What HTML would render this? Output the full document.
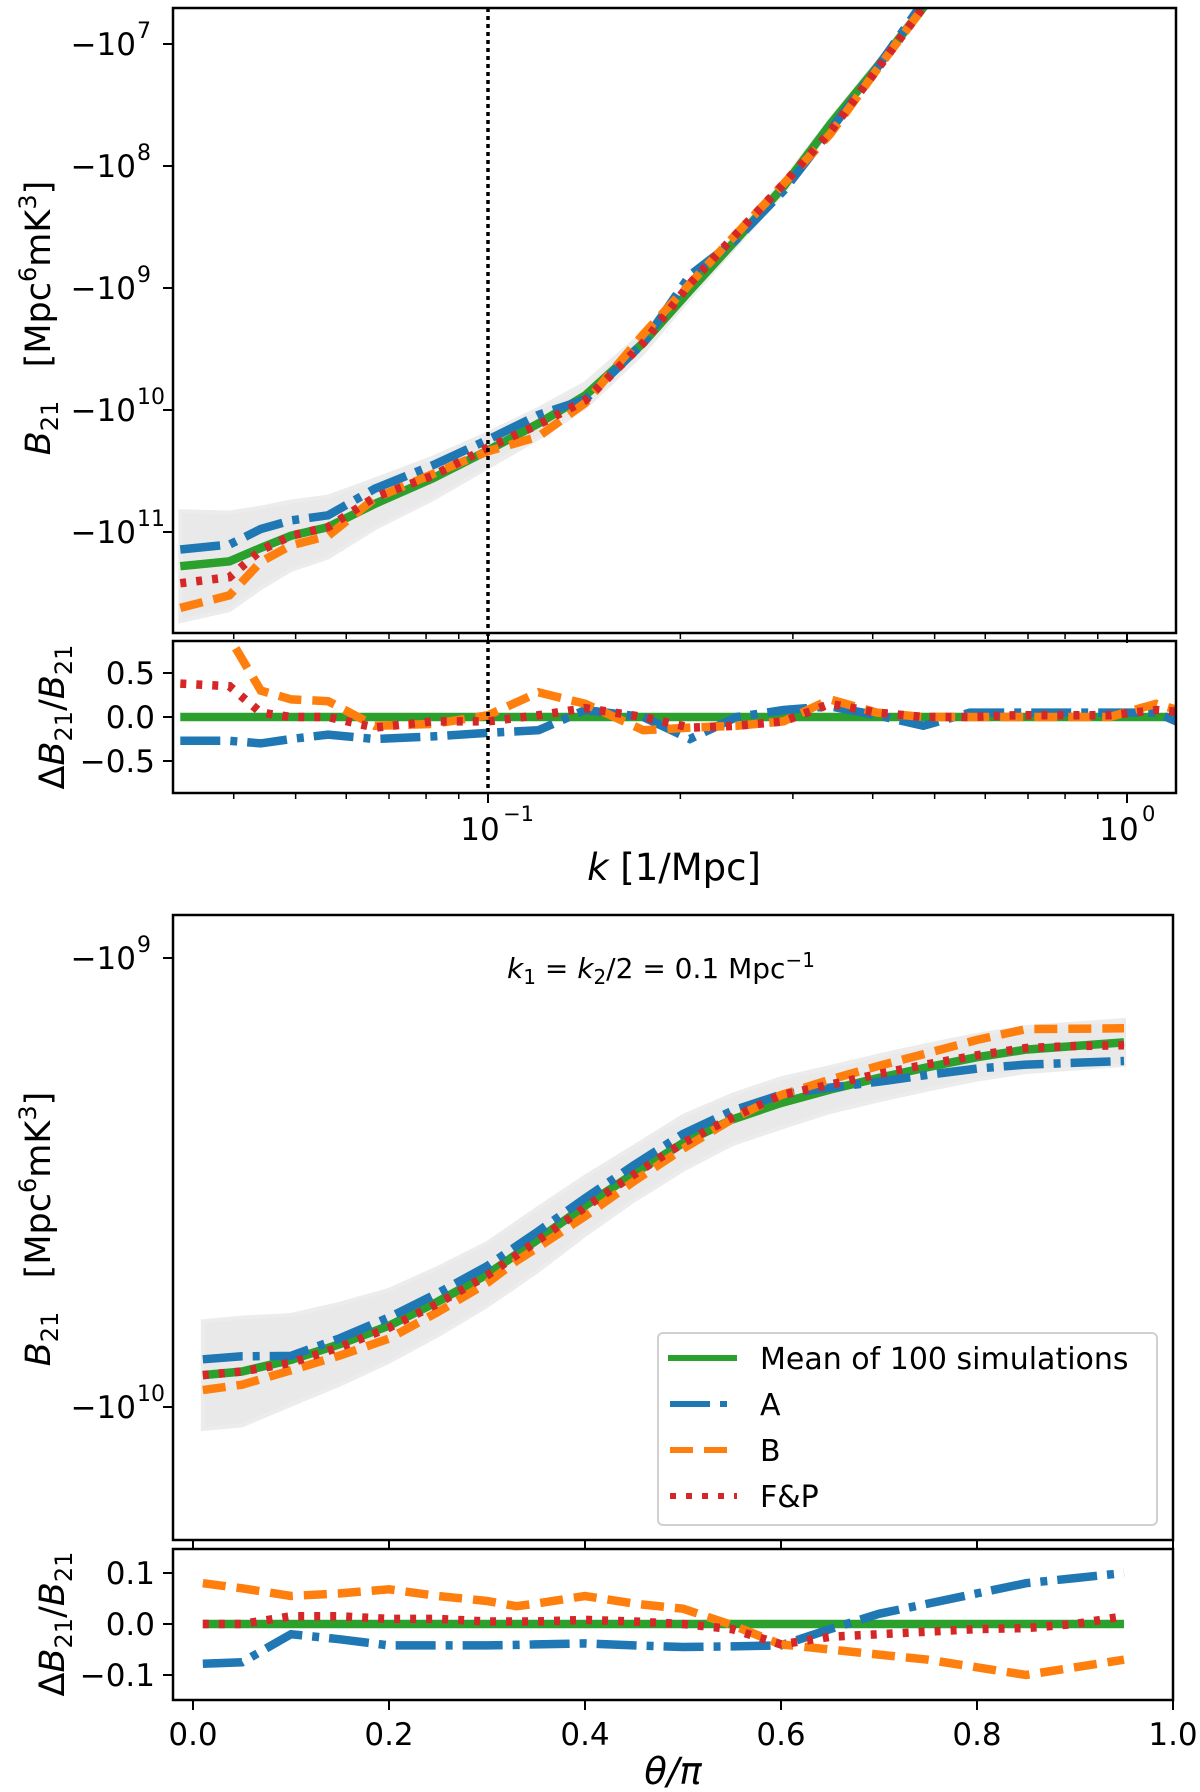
<!DOCTYPE html>
<html><head><meta charset="utf-8"><style>
html,body{margin:0;padding:0;background:#fff;}
svg{display:block;font-family:"DejaVu Sans","Liberation Sans",sans-serif;}
</style></head><body>
<svg id="fig" width="1200" height="1792" viewBox="0 0 1200 1792" xmlns="http://www.w3.org/2000/svg">
<defs>
<clipPath id="c1"><rect x="173" y="8" width="1003" height="625"/></clipPath>
<clipPath id="c2"><rect x="173" y="641" width="1003" height="152"/></clipPath>
<clipPath id="c3"><rect x="173" y="915" width="1000" height="625"/></clipPath>
<clipPath id="c4"><rect x="173" y="1549" width="1000" height="151"/></clipPath>
</defs>
<g id="g1" clip-path="url(#c1)"></g>
<g id="g2" clip-path="url(#c2)"></g>
<g id="g3" clip-path="url(#c3)"></g>
<g id="g4" clip-path="url(#c4)"></g>
<g id="axes"></g>

<text transform="translate(50,318) rotate(-90)" text-anchor="middle" font-size="35"><tspan font-style="italic">B</tspan><tspan font-size="24" dy="8">21</tspan><tspan dy="-8" xml:space="preserve">   [Mpc</tspan><tspan font-size="24" dy="-14">6</tspan><tspan dy="14">mK</tspan><tspan font-size="24" dy="-14">3</tspan><tspan dy="14">]</tspan></text>
<text transform="translate(64,717) rotate(-90)" text-anchor="middle" font-size="35">Δ<tspan font-style="italic">B</tspan><tspan font-size="24" dy="8">21</tspan><tspan dy="-8">/</tspan><tspan font-style="italic">B</tspan><tspan font-size="24" dy="8">21</tspan></text>
<text x="674" y="880" text-anchor="middle" font-size="37"><tspan font-style="italic">k</tspan> [1/Mpc]</text>
<text transform="translate(50,1229) rotate(-90)" text-anchor="middle" font-size="35"><tspan font-style="italic">B</tspan><tspan font-size="24" dy="8">21</tspan><tspan dy="-8" xml:space="preserve">   [Mpc</tspan><tspan font-size="24" dy="-14">6</tspan><tspan dy="14">mK</tspan><tspan font-size="24" dy="-14">3</tspan><tspan dy="14">]</tspan></text>
<text transform="translate(64,1624) rotate(-90)" text-anchor="middle" font-size="35">Δ<tspan font-style="italic">B</tspan><tspan font-size="24" dy="8">21</tspan><tspan dy="-8">/</tspan><tspan font-style="italic">B</tspan><tspan font-size="24" dy="8">21</tspan></text>
<text x="673" y="1784" text-anchor="middle" font-size="37" font-style="italic">θ/π</text>
<text x="507" y="978" font-size="28"><tspan font-style="italic">k</tspan><tspan font-size="20" dy="6">1</tspan><tspan dy="-6"> = </tspan><tspan font-style="italic">k</tspan><tspan font-size="20" dy="6">2</tspan><tspan dy="-6">/2 = 0.1 Mpc</tspan><tspan font-size="20" dy="-11">−1</tspan></text>

<g>
<rect x="658" y="1333" width="499" height="192" rx="5" fill="#fff" fill-opacity="0.85" stroke="#d0d0d0" stroke-width="2"/>
<g><line x1="668" y1="1358" x2="737" y2="1358" stroke="#2ca02c" stroke-width="6"/><text x="760" y="1369" font-size="30">Mean of 100 simulations</text></g>
<g><line x1="670" y1="1404" x2="737" y2="1404" stroke="#1f77b4" stroke-width="6" stroke-dasharray="40,10,7,10"/><text x="760" y="1415" font-size="30">A</text></g>
<g><line x1="670" y1="1450" x2="737" y2="1450" stroke="#ff7f0e" stroke-width="6" stroke-dasharray="23,11"/><text x="760" y="1461" font-size="30">B</text></g>
<g><line x1="670" y1="1496" x2="737" y2="1496" stroke="#d62728" stroke-width="6" stroke-dasharray="6,10"/><text x="760" y="1507" font-size="30">F&amp;P</text></g>
</g>
</svg>
<script>
// ---- Top panel data (k in 1/Mpc, log10|B21|, residuals) ----
const kVals = [0.033,0.0394,0.0441,0.0492,0.0562,0.0665,0.082,0.1,0.12,0.142,0.175,0.207,0.245,0.29,0.343,0.406,0.48,0.568,0.671,0.794,0.94,1.11,1.24];
const kMeanLog = [11.28,11.24,11.13,11.03,10.96,10.77,10.56,10.33,10.11,9.88,9.45,9.02,8.60,8.17,7.66,7.19,6.70,6.25,5.85,5.4,5.0,4.6,4.3];
const kSpread = [0.45,0.4,0.33,0.28,0.25,0.2,0.17,0.14,0.12,0.1,0.08,0.06,0.05,0.05,0.04,0.04,0.04,0.04,0.04,0.04,0.04,0.04,0.04];
const kResA = [-0.27,-0.27,-0.3,-0.25,-0.2,-0.25,-0.22,-0.18,-0.15,0.08,0.0,-0.25,0.0,0.08,0.12,0.02,-0.1,0.05,0.05,0.05,0.05,0.05,-0.1];
const kResB = [1.2,0.9,0.3,0.2,0.18,-0.1,-0.08,0.02,0.28,0.15,-0.15,-0.12,-0.1,-0.05,0.2,0.05,0.0,0.0,0.0,0.0,0.0,0.15,0.05];
const kResFP = [0.38,0.35,0.05,0.0,0.0,-0.12,-0.05,-0.05,0.02,0.1,0.0,-0.12,-0.1,-0.05,0.15,0.05,0.0,0.0,0.02,0.02,0.02,0.08,0.05];
const kTickLabels = ["10", "10"];
const kTickExps = ["−1","0"];
const topYTickExps = [7,8,9,10,11];
const topResTicks = [0.5,0.0,-0.5];
// ---- Bottom panel data (theta/pi, log10|B21|, residuals) ----
const thVals = [0.01,0.05,0.1,0.15,0.2,0.25,0.3,0.33,0.35,0.4,0.45,0.5,0.55,0.6,0.65,0.7,0.75,0.8,0.85,0.9,0.95];
const thMeanLog = [9.929,9.921,9.895,9.86,9.819,9.765,9.705,9.66,9.63,9.552,9.48,9.412,9.36,9.323,9.293,9.267,9.243,9.221,9.204,9.196,9.188];
const thSpread = [0.12,0.12,0.1,0.09,0.08,0.075,0.07,0.07,0.07,0.065,0.06,0.06,0.055,0.055,0.05,0.05,0.05,0.05,0.05,0.05,0.05];
const thResA = [-0.078,-0.075,-0.02,-0.03,-0.042,-0.042,-0.042,-0.041,-0.04,-0.038,-0.042,-0.045,-0.044,-0.042,-0.01,0.02,0.04,0.06,0.08,0.09,0.1];
const thResB = [0.08,0.07,0.055,0.06,0.068,0.055,0.045,0.035,0.04,0.055,0.04,0.03,-0.002,-0.04,-0.05,-0.06,-0.07,-0.085,-0.1,-0.085,-0.07];
const thResFP = [0,0,0.015,0.015,0.01,0.01,0.005,0.005,0.005,0.008,0.005,0.0,-0.01,-0.04,-0.025,-0.02,-0.015,-0.01,-0.008,0.0,0.015];
const thTicks = [0.0,0.2,0.4,0.6,0.8,1.0];
const botYTickExps = [9,10];
const botResTicks = [0.1,0.0,-0.1];

const NS="http://www.w3.org/2000/svg";
function mk(tag,attrs,parent){const e=document.createElementNS(NS,tag);for(const a in attrs)e.setAttribute(a,attrs[a]);parent.appendChild(e);return e;}
const xK = k => 488 + 639*(Math.log10(k)+1);
const yTop = L => 44 + 122*(L-7);
const yTopRes = r => 717 - 88*r;
const xTh = t => 193 + 980*t;
const yBot = L => 958 + 449*(L-9);
const yBotRes = r => 1624 - 510*r;
const STY = {
  mean:{stroke:"#2ca02c",da:""},
  a:{stroke:"#1f77b4",da:"40,10,7,10"},
  b:{stroke:"#ff7f0e",da:"23,11"},
  fp:{stroke:"#d62728",da:"6,10"}
};
function line(parent,xs,ys,sty){
  const d=xs.map((x,i)=>(i?"L":"M")+x.toFixed(1)+","+ys[i].toFixed(1)).join("");
  const p=mk("path",{d:d,fill:"none",stroke:sty.stroke,"stroke-width":8.5},parent);
  if(sty.da)p.setAttribute("stroke-dasharray",sty.da);
  return p;
}
function band(parent,xs,mid,spr,fy){
  let d="";
  xs.forEach((x,i)=>{d+=(i?"L":"M")+x.toFixed(1)+","+fy(mid[i]-spr[i]).toFixed(1);});
  for(let i=xs.length-1;i>=0;i--)d+="L"+xs[i].toFixed(1)+","+fy(mid[i]+spr[i]).toFixed(1);
  const p=mk("path",{d:d+"Z",fill:"#c8c8c8","fill-opacity":"0.4",stroke:"#ececec","stroke-width":4},parent);
  return p;
}
const g1=document.getElementById("g1"),g2=document.getElementById("g2"),g3=document.getElementById("g3"),g4=document.getElementById("g4"),ax=document.getElementById("axes");

// top main
const kx=kVals.map(xK);
let bd=band(g1,kx,kMeanLog,kSpread,yTop);


const modL=(res)=>kMeanLog.map((L,i)=>L+Math.log10(Math.max(1+res[i],0.05)));
let p;
p=line(g1,kx,kMeanLog.map(yTop),STY.mean);


p=line(g1,kx,modL(kResA).map(yTop),STY.a);


p=line(g1,kx,modL(kResB).map(yTop),STY.b);


p=line(g1,kx,modL(kResFP).map(yTop),STY.fp);


// top residual
p=line(g2,kx,kVals.map(()=>yTopRes(0)),STY.mean);


p=line(g2,kx,kResA.map(yTopRes),STY.a);


p=line(g2,kx,kResB.map(yTopRes),STY.b);


p=line(g2,kx,kResFP.map(yTopRes),STY.fp);


// dotted vertical at k=0.1
p=mk("line",{x1:xK(0.1),x2:xK(0.1),y1:8,y2:793,stroke:"#000","stroke-width":3.5,"stroke-dasharray":"4,4"},ax);



// bottom main
const tx=thVals.map(xTh);
bd=band(g3,tx,thMeanLog,thSpread,yBot);


const modT=(res)=>thMeanLog.map((L,i)=>L+Math.log10(1+res[i]));
p=line(g3,tx,thMeanLog.map(yBot),STY.mean);


p=line(g3,tx,modT(thResA).map(yBot),STY.a);


p=line(g3,tx,modT(thResB).map(yBot),STY.b);


p=line(g3,tx,modT(thResFP).map(yBot),STY.fp);


// bottom residual
p=line(g4,tx,thVals.map(()=>yBotRes(0)),STY.mean);


p=line(g4,tx,thResA.map(yBotRes),STY.a);


p=line(g4,tx,thResB.map(yBotRes),STY.b);


p=line(g4,tx,thResFP.map(yBotRes),STY.fp);



// frames
[[173,8,1003,625,'top-main-frame'],[173,641,1003,152,'top-residual-frame'],[173,915,1000,625,'bottom-main-frame'],[173,1549,1000,151,'bottom-residual-frame']].forEach(f=>{
  const r=mk("rect",{x:f[0],y:f[1],width:f[2],height:f[3],fill:"none",stroke:"#000","stroke-width":2.5},ax);
  
  
});
function tk(x1,y1,x2,y2,w){mk("line",{x1:x1,y1:y1,x2:x2,y2:y2,stroke:"#000","stroke-width":w||2},ax);}
function txt(x,y,s,anchor,size){const t=mk("text",{x:x,y:y,"text-anchor":anchor,"font-size":size||29},ax);t.textContent=s;return t;}
// top x ticks (major + minor), on both top panels' bottoms
[633,793].forEach(yb=>{
  for(let d=-2;d<=0;d++)for(let m=1;m<=9;m++){
    const k=m*Math.pow(10,d);const x=xK(k);
    if(x<173||x>1176)continue;
    tk(x,yb,x,yb+(m===1?10:6),m===1?2:1.5);
  }
});
kTickLabels.forEach((s,i)=>{
  const x=xK(Math.pow(10,i-1));
  const t=txt(x-8,840,s,"middle",31);
  
  
  const e=txt(x+15,821,kTickExps[i],"start",21);
  
  
});
// top y ticks
topYTickExps.forEach(e=>{
  const y=yTop(e);tk(163,y,173,y);
  const t=txt(136,y+11,"−10","end",31);
  
  
  const s=txt(137,y-6,String(e),"start",22);
  
  
});
topResTicks.forEach(v=>{
  const y=yTopRes(v);tk(163,y,173,y);
  const t=txt(155,y+11,(v<0?"−":"")+Math.abs(v).toFixed(1),"end",31);
  
  
});
// bottom x ticks
thTicks.forEach(v=>{
  const x=xTh(v);tk(x,1540,x,1550);tk(x,1700,x,1710);
  const t=txt(x,1745,v.toFixed(1),"middle",31);
  
  
});
botYTickExps.forEach(e=>{
  const y=yBot(e);tk(163,y,173,y);
  const t=txt(136,y+11,"−10","end",31);
  
  
  const s=txt(137,y-6,String(e),"start",22);
  
  
});
botResTicks.forEach(v=>{
  const y=yBotRes(v);tk(163,y,173,y);
  const t=txt(155,y+11,(v<0?"−":"")+Math.abs(v).toFixed(1),"end",31);
  
  
});
</script>
</body></html>
